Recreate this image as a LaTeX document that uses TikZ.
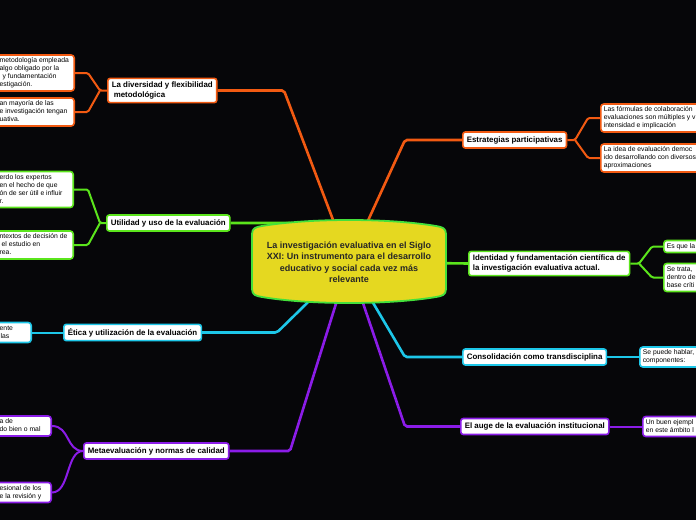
\documentclass[tikz,border=0pt]{standalone}
\usepackage{fontspec}
\setmainfont{Liberation Sans}
\definecolor{bgc}{HTML}{060609}
\definecolor{orng}{HTML}{F25A12}
\definecolor{grn}{HTML}{5BE51C}
\definecolor{cyn}{HTML}{1DC7E9}
\definecolor{prp}{HTML}{8B1CE8}
\definecolor{cfill}{HTML}{E5D820}
\definecolor{cborder}{HTML}{44E03A}
\pgfdeclarelayer{bglayer}
\pgfdeclarelayer{conlayer}
\pgfsetlayers{bglayer,conlayer,main}
\newcommand{\LBox}[2]{\hspace*{18pt}\begin{tabular}[c]{@{}p{#1}@{}}#2\end{tabular}}
\newcommand{\RBox}[1]{\begin{tabular}[c]{@{}l@{}}#1\end{tabular}\hspace*{40pt}}
\tikzset{
  mainbox/.style={draw=#1, fill=white, line width=1.6pt, rounded corners=2.5pt,
    font=\bfseries\fontsize{7.9}{9.3}\selectfont, text=black, align=left,
    inner xsep=4pt, inner ysep=3.8pt},
  subbox/.style={draw=#1, fill=white, line width=1.6pt, rounded corners=3pt,
    font=\fontsize{6.8}{8}\selectfont, text=black,
    inner xsep=3pt, inner ysep=2pt},
  maincon/.style={draw=#1, line width=2.6pt, rounded corners=2pt},
  subcon/.style={draw=#1, line width=2pt, rounded corners=1.5pt},
  centertext/.style={font=\bfseries\fontsize{9}{11.5}\selectfont, text={black!85}, align=center, inner sep=0pt},
}
\begin{document}
\begin{tikzpicture}[x=1pt,y=-1pt]
\begin{pgfonlayer}{bglayer}
\fill[bgc] (0,0) rectangle (696,520);
\end{pgfonlayer}
\useasboundingbox (0,0) rectangle (696,520);

% central node (text)
\node[centertext] (c) at (349,262) {La investigación evaluativa en el Siglo\\XXI: Un instrumento para el desarrollo\\educativo y social cada vez más\\relevante};

% main nodes
\node[mainbox=orng, anchor=west] (div) at (107,90.5) {La diversidad y flexibilidad\\\hspace*{2pt}metodológica};
\node[mainbox=grn, anchor=west, minimum height=16pt] (util) at (106,223) {Utilidad y uso de la evaluación};
\node[mainbox=cyn, anchor=west, minimum height=16pt] (etica) at (63,332.5) {Ética y utilización de la evaluación};
\node[mainbox=prp, anchor=west, minimum height=16pt] (meta) at (83,451) {Metaevaluación y normas de calidad};
\node[mainbox=orng, anchor=west, minimum height=16pt] (estr) at (462,140) {Estrategias participativas};
\node[mainbox=grn, anchor=west] (ident) at (468,263.5) {Identidad y fundamentación científica de\\la investigación evaluativa actual.};
\node[mainbox=cyn, anchor=west, minimum height=16pt] (consol) at (462,357) {Consolidación como transdisciplina};
\node[mainbox=prp, anchor=west, minimum height=16pt] (auge) at (460,426.5) {El auge de la evaluación institucional};

% sub nodes, left
\node[subbox=orng, anchor=east] (d1) at (75,73) {\LBox{71.5pt}{metodología empleada\\algo obligado por la\\\hspace*{3pt}y fundamentación\\estigación.}};
\node[subbox=orng, anchor=east] (d2) at (75,112) {\LBox{71.5pt}{an mayoría de las\\e investigación tengan\\uativa.}};
\node[subbox=grn, anchor=east] (u1) at (74,189.5) {\LBox{70.5pt}{erdo los expertos\\en el hecho de que\\ón de ser útil e influir\\r.}};
\node[subbox=grn, anchor=east] (u2) at (74,245) {\LBox{70.5pt}{ntextos de decisión de\\\hspace*{2pt}el estudio en\\rea.}};
\node[subbox=cyn, anchor=east] (e1) at (32,332.5) {\LBox{28.5pt}{ente\\\hspace*{1pt}las}};
\node[subbox=prp, anchor=east] (m1) at (52,426) {\LBox{48.5pt}{a de\\do bien o mal}};
\node[subbox=prp, anchor=east] (m2) at (52,492.5) {\LBox{48.5pt}{esional de los\\e la revisión y}};

% sub nodes, right
\node[subbox=orng, anchor=west] (s1) at (600,118) {\RBox{Las fórmulas de colaboración\\evaluaciones son múltiples y v\\intensidad e implicación}};
\node[subbox=orng, anchor=west] (s2) at (600,158) {\RBox{La idea de evaluación democ\\ido desarrollando con diversos\\aproximaciones}};
\node[subbox=grn, anchor=west] (i1) at (663,246.5) {\RBox{Es que la}};
\node[subbox=grn, anchor=west] (i2) at (663,277.5) {\RBox{Se trata,\\dentro de\\base críti}};
\node[subbox=cyn, anchor=west] (c1) at (639,357) {\RBox{Se puede hablar,\\componentes:}};
\node[subbox=prp, anchor=west] (a1) at (642,426.5) {\RBox{Un buen ejempl\\en este ámbito l}};

\begin{pgfonlayer}{conlayer}
% main connectors
\draw[maincon=orng] (div.east) -- (284,90.5) -- (c.center);
\draw[maincon=orng] (estr.west) -- (405,140) -- (c.center);
\draw[maincon=grn] (util.east) -- (292,223) -- (c.center);
\draw[maincon=grn] (ident.west) -- (c.center);
\draw[maincon=cyn] (etica.east) -- (277,332.5) -- (c.center);
\draw[maincon=cyn] (consol.west) -- (405,357) -- (c.center);
\draw[maincon=prp] (meta.east) -- (290,451) -- (c.center);
\draw[maincon=prp] (auge.west) -- (405,426.5) -- (c.center);
% sub connectors
\draw[subcon=orng] (d1.east) -- (88,73) -- (100,90.5) -- (div.west);
\draw[subcon=orng] (d2.east) -- (88,112) -- (100,90.5);
\draw[subcon=grn] (u1.east) -- (88,189.5) -- (100,223) -- (util.west);
\draw[subcon=grn] (u2.east) -- (88,245) -- (100,223);
\draw[subcon=cyn] (e1.east) -- (etica.west);
\draw[subcon=prp] (meta.west) .. controls (66,451) and (70,426) .. (m1.east);
\draw[subcon=prp] (meta.west) .. controls (66,451) and (70,492.5) .. (m2.east);
\draw[subcon=orng] (estr.east) -- (575,140) -- (588,118) -- (s1.west);
\draw[subcon=orng] (575,140) -- (588,158) -- (s2.west);
\draw[subcon=grn] (ident.east) -- (639,263.5) -- (652,246.5) -- (i1.west);
\draw[subcon=grn] (639,263.5) -- (652,277.5) -- (i2.west);
\draw[subcon=cyn] (consol.east) -- (c1.west);
\draw[subcon=prp] (auge.east) -- (a1.west);
% central shape
\draw[draw=cborder, fill=cfill, line width=1.8pt]
  (252,234) .. controls (252,228) and (256,227) .. (262,226)
  .. controls (310,218) and (388,218) .. (436,226)
  .. controls (442,227) and (446,228) .. (446,234)
  -- (446,289)
  .. controls (446,295) and (442,296) .. (436,297)
  .. controls (388,305) and (310,305) .. (262,297)
  .. controls (256,296) and (252,295) .. (252,289) -- cycle;
\end{pgfonlayer}
\end{tikzpicture}
\end{document}
